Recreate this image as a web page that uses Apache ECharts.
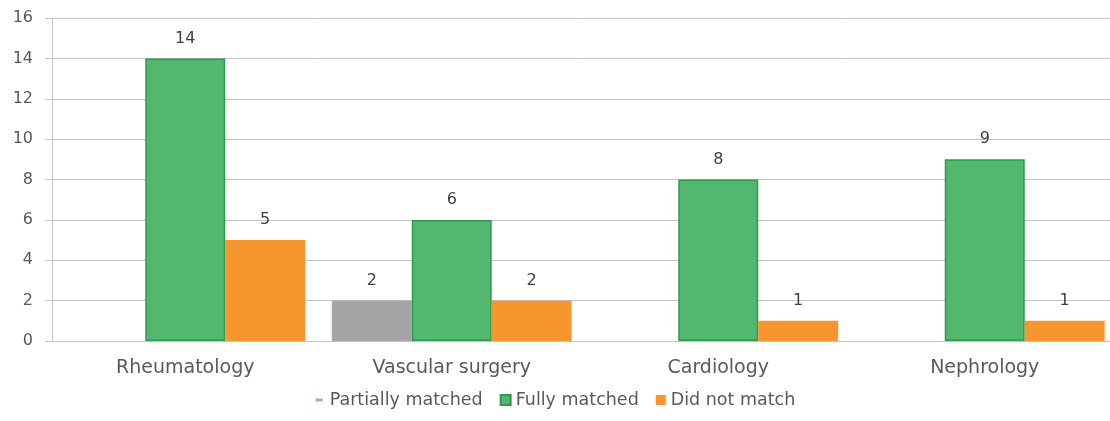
<!DOCTYPE html>
<html>
<head>
<meta charset="utf-8">
<script src="https://cdn.jsdelivr.net/npm/echarts@6/dist/echarts.min.js"></script>
<style>
html,body{margin:0;padding:0;background:#fff;}
#chart{width:1110px;height:421px;}
</style>
</head>
<body>
<div id="chart"></div>
<script>
const categories = ['Rheumatology', 'Vascular surgery', 'Cardiology', 'Nephrology'];
const partiallyMatched = [null, 2, null, null];
const fullyMatched = [14, 6, 8, 9];
const didNotMatch = [5, 2, 1, 1];
const yTicks = [0, 2, 4, 6, 8, 10, 12, 14, 16];

const FONT = 'DejaVu Sans';
const TEXT = '#595959';
const GRID = '#c4c4c4';

const chart = echarts.init(document.getElementById('chart'));
const labelCfg = {
  show: true, position: 'top', distance: 12,
  color: '#404040', fontSize: 16, fontFamily: FONT
};
chart.setOption({
  animation: false,
  textStyle: { fontFamily: FONT },
  grid: { left: 52, width: 1066, top: 18, bottom: 80, containLabel: false, outerBoundsMode: 'none' },
  legend: {
    bottom: 7, left: 'center',
    itemWidth: 10, itemHeight: 10, itemGap: 17,
    textStyle: { color: TEXT, fontSize: 17.5, fontFamily: FONT },
    data: [
      { name: 'Partially matched', icon: 'path://M0,0M10,10M1,3.5h7v3h-7z', itemStyle: { color: '#8fb4cf', borderWidth: 0 } },
      { name: 'Fully matched', icon: 'rect' },
      { name: 'Did not match', icon: 'rect' }
    ]
  },
  xAxis: {
    type: 'category',
    data: categories,
    axisLine: { show: true, lineStyle: { color: GRID, width: 1 } },
    axisTick: { show: false },
    axisLabel: { color: TEXT, fontSize: 19, fontFamily: FONT, margin: 18 }
  },
  yAxis: {
    type: 'value',
    min: yTicks[0], max: yTicks[yTicks.length - 1], interval: 2,
    axisLine: { show: true, lineStyle: { color: GRID, width: 1 } },
    axisTick: { show: true, inside: false, length: 7, lineStyle: { color: GRID, width: 1 } },
    splitLine: { show: true, lineStyle: { color: GRID, width: 1 } },
    axisLabel: { color: TEXT, fontSize: 16, fontFamily: FONT, margin: 19 }
  },
  series: [
    {
      name: 'Partially matched', type: 'bar', data: partiallyMatched,
      barGap: '0%', barCategoryGap: '10%',
      itemStyle: { color: '#a5a5a5' },
      label: labelCfg
    },
    {
      name: 'Fully matched', type: 'bar', data: fullyMatched,
      barGap: '0%', barCategoryGap: '10%',
      itemStyle: { color: '#52b870', borderColor: '#2e9a4c', borderWidth: 1.5 },
      label: labelCfg
    },
    {
      name: 'Did not match', type: 'bar', data: didNotMatch,
      barGap: '0%', barCategoryGap: '10%',
      itemStyle: { color: '#f7952f' },
      label: labelCfg
    }
  ]
});
</script>
</body>
</html>
